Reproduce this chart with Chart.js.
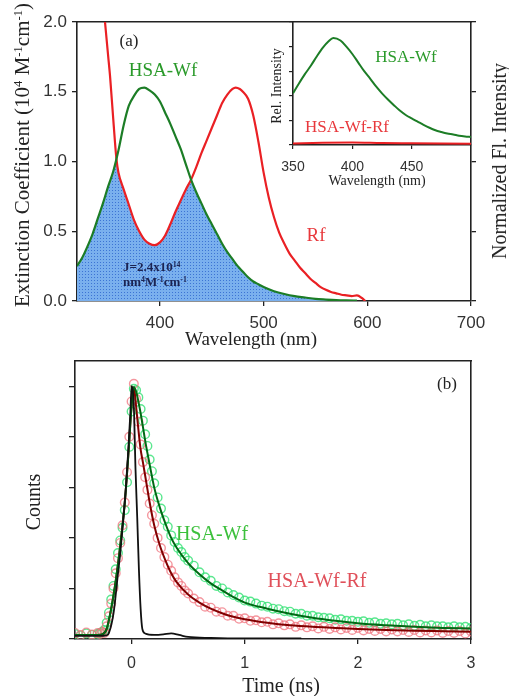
<!DOCTYPE html>
<html><head><meta charset="utf-8">
<script src="https://cdn.jsdelivr.net/npm/chart.js@4.4.1/dist/chart.umd.min.js"></script>
<style>
html,body{margin:0;padding:0;background:#fff;}
#wrap{position:relative;width:509px;height:696px;overflow:hidden;background:#fff;}
canvas{position:absolute;}
.t{position:absolute;white-space:nowrap;font-family:"Liberation Serif","Times New Roman",serif;color:#222;line-height:1;}
.c{transform:translate(-50%,-50%);}
.r{transform:translate(-50%,-50%) rotate(-90deg);}
sup{font-size:0.6em;vertical-align:0.55em;line-height:0;}
</style></head><body>
<div id="wrap">
<canvas id="ca" width="509" height="345" style="left:0px;top:0px"></canvas>
<canvas id="cin" width="230" height="192" style="left:250px;top:0px"></canvas>
<canvas id="cb" width="509" height="351" style="left:0px;top:345px"></canvas>

<div class="t c" style="left:129px;top:40px;font-size:17px;">(a)</div>
<div class="t c" style="left:163px;top:69px;font-size:19px;color:#2a9a2a;">HSA-Wf</div>
<div class="t c" style="left:316px;top:234px;font-size:19px;color:#e8383c;">Rf</div>
<div class="t" style="left:123px;top:259px;font-size:13px;font-weight:bold;color:#1b2352;line-height:15px;">J=2.4x10<sup>14</sup><br>nm<sup>4</sup>M<sup>-1</sup>cm<sup>-1</sup></div>
<div class="t r" style="left:22px;top:155px;font-size:21px;">Extinction Coefficient (10<sup>4</sup> M<sup>-1</sup>cm<sup>-1</sup>)</div>
<div class="t c" style="left:251px;top:338px;font-size:19px;">Wavelength (nm)</div>
<div class="t r" style="left:499px;top:161px;font-size:20px;">Normalized Fl. Intensity</div>
<div class="t r" style="left:277px;top:86px;font-size:14px;">Rel. Intensity</div>
<div class="t c" style="left:377px;top:181px;font-size:14px;">Wavelength (nm)</div>
<div class="t c" style="left:406px;top:56px;font-size:17px;color:#2a9a2a;">HSA-Wf</div>
<div class="t c" style="left:347px;top:126px;font-size:17px;color:#e8383c;">HSA-Wf-Rf</div>

<div class="t c" style="left:447px;top:383px;font-size:17px;">(b)</div>
<div class="t c" style="left:212px;top:533px;font-size:20px;color:#3cc03c;">HSA-Wf</div>
<div class="t c" style="left:317px;top:580px;font-size:20px;color:#e0505a;">HSA-Wf-Rf</div>
<div class="t r" style="left:33px;top:502px;font-size:20px;">Counts</div>
<div class="t c" style="left:281px;top:685px;font-size:20px;">Time (ns)</div>
</div>
<script>
// ---------- Panel (a): absorption spectra ----------
const wlAbs = [320,325,330,335,340,345,350,355,360,365,370,375,380,385,390,395,400,405,410,415,420,425,430,435,440,445,450,455,460,465,470,475,480,485,490,495,500,510,520,530,540,550,560,570,580,590];
const hsaWfAbs = [0.25,0.31,0.39,0.48,0.59,0.70,0.82,0.93,1.08,1.26,1.40,1.47,1.52,1.53,1.51,1.48,1.43,1.35,1.27,1.18,1.09,0.98,0.87,0.78,0.70,0.62,0.55,0.48,0.41,0.35,0.30,0.25,0.21,0.17,0.14,0.12,0.10,0.07,0.05,0.035,0.025,0.015,0.01,0.006,0.004,0.003];
const wlRf = [338,342,345,347,350,352,355,358,360,365,370,375,380,385,390,395,400,405,410,415,420,425,430,435,440,445,450,455,460,465,470,473,477,480,485,490,495,500,505,510,515,520,525,530,535,540,545,550,555,560,565,570,575,580,585,590,595,598];
const rfAbs = [2.7,2.4,2.16,2.0,1.76,1.6,1.3,1.02,0.92,0.80,0.69,0.58,0.50,0.44,0.41,0.40,0.42,0.47,0.55,0.64,0.72,0.80,0.87,0.96,1.06,1.15,1.24,1.33,1.42,1.48,1.52,1.53,1.52,1.50,1.45,1.33,1.14,0.92,0.74,0.60,0.49,0.41,0.34,0.29,0.24,0.20,0.16,0.13,0.10,0.08,0.065,0.055,0.045,0.04,0.035,0.04,0.02,0.0];
const wlOverlap = [320,325,330,335,340,345,350,355,358,360,365,370,375,380,385,390,395,400,405,410,415,420,425,430,435,440,445,450,455,460,465,470,475,480,485,490,495,500,510,520,530,540,550,560,570,580,590];
const overlapAbs = [0.25,0.31,0.39,0.48,0.59,0.70,0.82,0.93,1.02,0.92,0.80,0.69,0.58,0.50,0.44,0.41,0.40,0.42,0.47,0.55,0.64,0.72,0.80,0.87,0.78,0.70,0.62,0.55,0.48,0.41,0.35,0.30,0.25,0.21,0.17,0.14,0.12,0.10,0.07,0.05,0.035,0.025,0.015,0.01,0.006,0.004,0.003];
const xTicksA = [400,500,600,700];
const yTicksA = [0,0.5,1.0,1.5,2.0];

// ---------- Inset: fluorescence ----------
const wlInset = [350,355,360,365,370,375,380,384,390,395,400,405,410,415,420,425,430,435,440,445,450,455,460,465,470,475,480,485,490,495,500];
const hsaWfFl = [2.1,2.5,2.88,3.22,3.6,3.95,4.22,4.35,4.25,4.0,3.7,3.35,3.0,2.7,2.38,2.1,1.85,1.62,1.4,1.22,1.08,0.95,0.82,0.70,0.60,0.53,0.47,0.43,0.38,0.35,0.33];
const wlInsetRf = [350,375,400,425,450,475,500];
const hsaWfRfFl = [0.06,0.09,0.10,0.08,0.07,0.06,0.05];
const xTicksIn = [350,400,450];
const yTicksIn = [0,1,2,3,4,5];

// ---------- Panel (b): decays ----------
const tData = [-0.50,-0.45,-0.40,-0.35,-0.30,-0.28,-0.26,-0.24,-0.22,-0.20,-0.18,-0.16,-0.14,-0.12,-0.10,-0.08,-0.06,-0.04,-0.02,0.00,0.02,0.04,0.06,0.08,0.10,0.12,0.14,0.16,0.18,0.20,0.23,0.26,0.29,0.32,0.35,0.38,0.41,0.44,0.47,0.50,0.55,0.60,0.65,0.70,0.75,0.80,0.85,0.90,0.95,1.00,1.05,1.10,1.15,1.20,1.25,1.30,1.35,1.40,1.45,1.50,1.55,1.60,1.65,1.70,1.75,1.80,1.85,1.90,1.95,2.00,2.05,2.10,2.15,2.20,2.25,2.30,2.35,2.40,2.45,2.50,2.55,2.60,2.65,2.70,2.75,2.80,2.85,2.90,2.95,3.00];
const hsaWfCounts = [0.10,0.07,0.11,0.08,0.10,
 0.12,0.14,0.18,0.32,0.52,0.78,1.05,1.38,1.7,1.95,2.2,2.55,3.1,3.8,4.5,4.95,4.92,4.78,4.55,4.32,4.05,3.82,3.55,3.32,3.08,
 2.8,2.58,2.35,2.22,2.05,1.92,1.80,1.72,1.62,1.55,
 1.45,1.32,1.22,1.15,1.05,1.0,0.92,0.87,0.82,0.76,
 0.74,0.70,0.66,0.64,0.60,0.59,0.55,0.54,0.50,0.50,0.46,0.46,0.43,0.42,0.41,0.38,0.39,0.36,0.36,0.34,
 0.35,0.32,0.33,0.30,0.31,0.29,0.30,0.27,0.29,0.26,0.28,0.25,0.27,0.25,0.25,0.23,0.25,0.23,0.24,0.22];
const hsaWfRfCounts = [0.12,0.08,0.13,0.09,0.12,
 0.10,0.14,0.12,0.25,0.45,0.70,1.0,1.3,1.6,1.9,2.25,2.7,3.3,4.0,4.7,5.05,4.75,4.3,3.85,3.5,3.2,2.95,2.68,2.45,2.28,
 2.0,1.8,1.62,1.47,1.35,1.22,1.12,1.05,0.96,0.90,
 0.80,0.73,0.64,0.62,0.54,0.53,0.46,0.46,0.40,0.41,
 0.36,0.37,0.33,0.34,0.29,0.31,0.27,0.29,0.24,0.27,0.23,0.25,0.21,0.24,0.20,0.23,0.19,0.22,0.18,0.22,
 0.17,0.20,0.16,0.20,0.15,0.19,0.15,0.18,0.14,0.18,0.13,0.17,0.13,0.17,0.12,0.16,0.12,0.16,0.11,0.15];
const tFit = [-0.5,-0.3,-0.26,-0.22,-0.18,-0.14,-0.10,-0.06,-0.03,0.0,0.02,0.04,0.06,0.08,0.10,0.13,0.16,0.20,0.25,0.30,0.35,0.40,0.50,0.60,0.70,0.80,0.90,1.0,1.2,1.4,1.6,1.8,2.0,2.25,2.5,2.75,3.0];
const hsaWfFit = [0.08,0.08,0.09,0.2,0.6,1.15,1.85,2.7,3.6,4.6,4.98,4.9,4.7,4.47,4.2,3.8,3.45,3.0,2.6,2.28,2.0,1.8,1.5,1.28,1.1,0.96,0.83,0.72,0.6,0.5,0.42,0.36,0.31,0.27,0.24,0.22,0.21];
const hsaWfRfFit = [0.08,0.08,0.09,0.2,0.6,1.15,1.85,2.7,3.6,4.6,4.98,4.6,4.15,3.75,3.5,3.1,2.7,2.25,1.85,1.55,1.3,1.12,0.88,0.72,0.6,0.51,0.44,0.39,0.32,0.27,0.24,0.22,0.2,0.18,0.165,0.155,0.145];
const tIrf = [-0.5,-0.3,-0.22,-0.2,-0.16,-0.12,-0.10,-0.08,-0.05,-0.03,-0.01,0.0,0.02,0.035,0.05,0.065,0.08,0.095,0.12,0.2,0.28,0.35,0.42,0.5,0.7,1.0,1.5];
const irfCounts = [0.06,0.06,0.07,0.12,0.5,1.3,1.7,2.2,3.0,3.7,4.5,5.0,4.6,3.35,2.4,1.37,0.6,0.2,0.11,0.08,0.09,0.11,0.08,0.04,0.02,0.01,0.01];
const xTicksB = [0,1,2,3];
const yTicksB = [0,1,2,3,4,5];

// ---------- helpers ----------
const pts = (xs, ys) => xs.map((x, i) => ({x: x, y: ys[i]}));
const fixTicks = vals => s => { s.ticks = vals.map(v => ({value: v})); };
Chart.defaults.font.family = "'Liberation Sans', Arial, sans-serif";
const AX = '#222';
const noPlug = {legend: {display: false}, tooltip: {enabled: false}};

const pc = document.createElement('canvas'); pc.width = 3; pc.height = 3;
const pcx = pc.getContext('2d');
pcx.fillStyle = 'rgb(122,176,238)'; pcx.fillRect(0, 0, 3, 3);
pcx.fillStyle = 'rgb(60,116,212)'; pcx.fillRect(1, 1, 1, 1);
const pattern = pcx.createPattern(pc, 'repeat');

function lineDs(xs, ys, color, w) {
  return {data: pts(xs, ys), borderColor: color, borderWidth: w, pointRadius: 0, fill: false, cubicInterpolationMode: 'monotone'};
}

// Panel (a)
new Chart(document.getElementById('ca'), {
  type: 'line',
  data: {datasets: [
    lineDs(wlAbs, hsaWfAbs, 'rgb(28,125,38)', 2.2),
    lineDs(wlRf, rfAbs, 'rgb(234,32,36)', 2.2),
    {data: pts(wlOverlap, overlapAbs), borderWidth: 0, borderColor: 'rgba(0,0,0,0)', pointRadius: 0, fill: 'origin', backgroundColor: pattern, cubicInterpolationMode: 'monotone'}
  ]},
  options: {
    responsive: false, animation: false, layout: {padding: {top: 22, left: 0, right: 0, bottom: 0}},
    plugins: noPlug,
    scales: {
      x: {type: 'linear', position: 'bottom', min: 320, max: 700, afterBuildTicks: fixTicks(xTicksA), afterFit: s => { s.height = 44; },
          ticks: {font: {size: 17}, color: '#333', padding: 7, maxRotation: 0, autoSkip: false},
          grid: {drawOnChartArea: false, tickLength: 5, color: AX, lineWidth: 1.3}, border: {color: AX, width: 1.6}},
      xt: {type: 'linear', position: 'top', min: 320, max: 700, afterFit: s => { s.height = 0; },
           ticks: {display: false}, grid: {display: false}, border: {display: true, color: AX, width: 1.6}},
      y: {position: 'left', min: 0, max: 2, afterBuildTicks: fixTicks(yTicksA), afterFit: s => { s.width = 77; },
          ticks: {font: {size: 17}, color: '#333', padding: 5, callback: v => v.toFixed(1)},
          grid: {drawOnChartArea: false, tickLength: 5, color: AX, lineWidth: 1.3}, border: {color: AX, width: 1.6}},
      yr: {position: 'right', min: 0, max: 2, afterBuildTicks: fixTicks(yTicksA), afterFit: s => { s.width = 38; },
           ticks: {display: false}, grid: {drawOnChartArea: false, tickLength: 5, color: AX, lineWidth: 1.3}, border: {color: AX, width: 1.6}}
    }
  }
});

// Inset
new Chart(document.getElementById('cin'), {
  type: 'line',
  data: {datasets: [
    lineDs(wlInset, hsaWfFl, 'rgb(28,125,38)', 2),
    lineDs(wlInsetRf, hsaWfRfFl, 'rgb(234,32,36)', 2)
  ]},
  options: {
    responsive: false, animation: false, layout: {padding: {top: 22, left: 0, right: 9, bottom: 0}},
    plugins: noPlug,
    scales: {
      x: {type: 'linear', position: 'bottom', min: 350, max: 500, afterBuildTicks: fixTicks(xTicksIn), afterFit: s => { s.height = 47; },
          ticks: {font: {size: 14}, color: '#333', padding: 10, maxRotation: 0, autoSkip: false},
          grid: {drawOnChartArea: false, tickLength: 4, color: AX, lineWidth: 1.2}, border: {color: AX, width: 1.6}},
      y: {position: 'left', min: 0, max: 5, afterBuildTicks: fixTicks(yTicksIn), afterFit: s => { s.width = 43; },
          ticks: {display: false}, grid: {drawOnChartArea: false, tickLength: 4, color: AX, lineWidth: 1.2}, border: {color: AX, width: 1.6}}
    }
  }
});

// Panel (b)
new Chart(document.getElementById('cb'), {
  type: 'line',
  data: {datasets: [
    lineDs(tIrf, irfCounts, '#111', 1.8),
    lineDs(tFit, hsaWfFit, 'rgb(0,105,20)', 2),
    lineDs(tFit, hsaWfRfFit, 'rgb(130,0,0)', 2),
    {data: pts(tData, hsaWfRfCounts), showLine: false, pointRadius: 4.3, pointBorderWidth: 1.4, pointBorderColor: 'rgba(240,115,125,0.75)', pointBackgroundColor: 'rgba(0,0,0,0)'},
    {data: pts(tData, hsaWfCounts), showLine: false, pointRadius: 4.3, pointBorderWidth: 1.4, pointBorderColor: 'rgba(50,225,115,0.8)', pointBackgroundColor: 'rgba(0,0,0,0)'}
  ]},
  options: {
    responsive: false, animation: false, layout: {padding: {top: 16, left: 0, right: 0, bottom: 0}},
    plugins: noPlug,
    scales: {
      x: {type: 'linear', position: 'bottom', min: -0.5, max: 3, afterBuildTicks: fixTicks(xTicksB), afterFit: s => { s.height = 57; },
          ticks: {font: {size: 16}, color: '#333', padding: 10, maxRotation: 0, autoSkip: false},
          grid: {drawOnChartArea: false, tickLength: 5, color: AX, lineWidth: 1.3}, border: {color: AX, width: 1.6}},
      xt: {type: 'linear', position: 'top', min: -0.5, max: 3, afterFit: s => { s.height = 0; },
           ticks: {display: false}, grid: {display: false}, border: {display: true, color: AX, width: 1.6}},
      y: {position: 'left', min: 0, max: 5.5, afterBuildTicks: fixTicks(yTicksB), afterFit: s => { s.width = 75; },
          ticks: {display: false}, grid: {drawOnChartArea: false, tickLength: 6, color: AX, lineWidth: 1.3}, border: {color: AX, width: 1.6}},
      yr: {position: 'right', min: 0, max: 5.5, afterFit: s => { s.width = 38; },
           ticks: {display: false}, grid: {display: false}, border: {display: true, color: AX, width: 1.6}}
    }
  }
});
</script>
</body></html>
